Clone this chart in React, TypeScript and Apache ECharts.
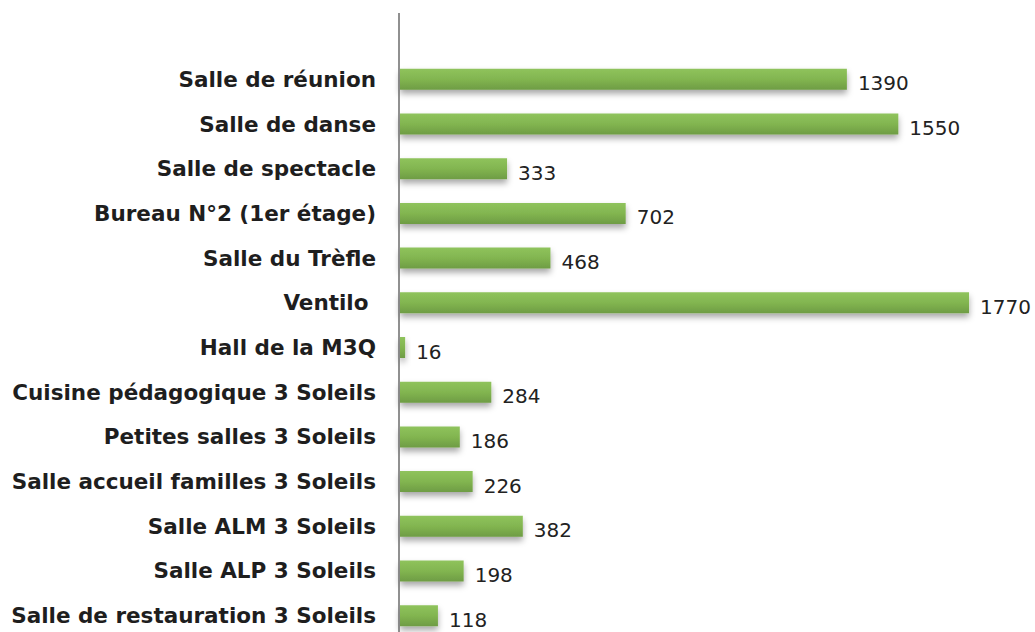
import React, { useEffect, useRef } from "react";
import * as echarts from "echarts";

const categories = [
  "Salle de réunion",
  "Salle de danse",
  "Salle de spectacle",
  "Bureau N°2 (1er étage)",
  "Salle du Trèfle",
  "Ventilo ",
  "Hall de la M3Q",
  "Cuisine pédagogique 3 Soleils",
  "Petites salles 3 Soleils",
  "Salle accueil familles 3 Soleils",
  "Salle ALM 3 Soleils",
  "Salle ALP 3 Soleils",
  "Salle de restauration 3 Soleils",
];
const values = [1390, 1550, 333, 702, 468, 1770, 16, 284, 186, 226, 382, 198, 118];

export default function App() {
  const ref = useRef<HTMLDivElement>(null);
  useEffect(() => {
    if (!ref.current) return;
    const chart = echarts.init(ref.current, null, { renderer: "svg" });
    chart.setOption({
      animation: false,
      backgroundColor: "#ffffff",
      grid: {
        left: 400,
        top: 57,
        width: 643,
        height: 581,
        containLabel: false,
        outerBoundsMode: "none",
      },
      xAxis: {
        type: "value",
        min: 0,
        max: 2000,
        show: false,
      },
      yAxis: {
        type: "category",
        data: categories,
        inverse: true,
        axisLine: { show: false },
        axisTick: { show: false },
        axisLabel: {
          color: "#1e1e1e",
          fontFamily: "DejaVu Sans",
          fontWeight: "bold",
          fontSize: 21.5,
          margin: 24,
          lineHeight: 24,
          padding: [6, 0, 0, 0],
        },
      },
      graphic: [
        {
          type: "line",
          shape: { x1: 399, y1: 13, x2: 399, y2: 640 },
          style: { stroke: "#6b6b6b", lineWidth: 1.5 },
          z: 10,
        },
      ],
      series: [
        {
          type: "bar",
          data: values,
          barWidth: 21,
          itemStyle: {
            color: new echarts.graphic.LinearGradient(0, 0, 0, 1, [
              { offset: 0, color: "#8fc35c" },
              { offset: 0.5, color: "#82b550" },
              { offset: 1, color: "#6e9c44" },
            ]),
            shadowColor: "rgba(0,0,0,0.35)",
            shadowBlur: 6,
            shadowOffsetY: 4,
          },
          label: {
            show: true,
            position: "right",
            distance: 11,
            offset: [0, 4],
            color: "#222222",
            fontFamily: "DejaVu Sans",
            fontSize: 20,
          },
        },
      ],
    });
    return () => chart.dispose();
  }, []);
  return <div ref={ref} style={{ width: 1035, height: 632, position: "fixed", left: 0, top: 0 }} />;
}
